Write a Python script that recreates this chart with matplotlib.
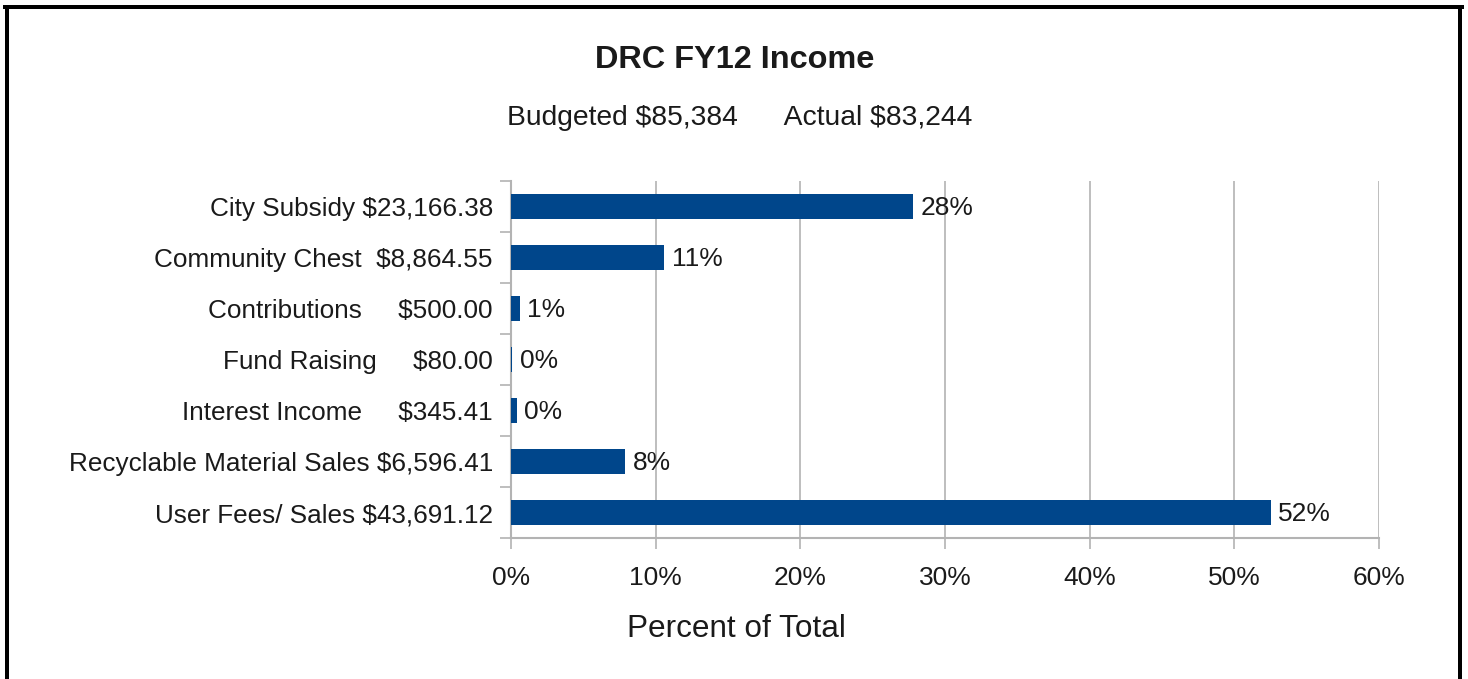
import numpy as np
import matplotlib.pyplot as plt
from matplotlib.lines import Line2D
from matplotlib.ticker import FixedLocator, PercentFormatter

plt.rcParams['font.family'] = ['Liberation Sans', 'DejaVu Sans']
plt.rcParams['text.parse_math'] = False

# kategorie (etykiety tak jak na wykresie, z odstępami)
categories = [
    'City Subsidy $23,166.38',
    'Community Chest  $8,864.55',
    'Contributions     $500.00',
    'Fund Raising     $80.00',
    'Interest Income     $345.41',
    'Recyclable Material Sales $6,596.41',
    'User Fees/ Sales $43,691.12',
]
# udział w całości (%)
shares = [27.8, 10.6, 0.6, 0.1, 0.4, 7.9, 52.5]
share_labels = ['28%', '11%', '1%', '0%', '0%', '8%', '52%']

bar_color = '#00468b'
grid_color = '#b3b3b3'
text_color = '#1a1a1a'

W, H = 1468, 679
fig = plt.figure(figsize=(W / 100, H / 100), dpi=100)
ax = fig.add_axes([511 / W, 1 - 538 / H, (1379 - 511) / W, (538 - 181) / H])

y = np.arange(len(categories))
ax.barh(y, shares, height=0.5, color=bar_color, zorder=3)

for yi, v, lab in zip(y, shares, share_labels):
    ax.text(v + 0.5, yi + 0.02, lab, va='center', ha='left', fontsize=19, color=text_color)

ax.set_xlim(0, 60)
ax.set_ylim(len(categories) - 0.5, -0.5)
ax.set_xticks(np.arange(0, 61, 10))
ax.xaxis.set_major_formatter(PercentFormatter(decimals=0))
ax.set_yticks(y)
ax.set_yticklabels(categories)
ax.yaxis.set_minor_locator(FixedLocator(np.arange(-0.5, len(categories), 1)))

ax.tick_params(axis='y', which='major', length=0, pad=13, labelsize=18.8, labelcolor=text_color)
ax.tick_params(axis='y', which='minor', length=8, width=1.2, color=grid_color)
ax.tick_params(axis='x', which='major', length=8, width=1.2, color=grid_color,
               pad=12, labelsize=19, labelcolor=text_color)

ax.grid(axis='x', color=grid_color, linewidth=1.2, zorder=0)
for s in ['top', 'right']:
    ax.spines[s].set_visible(False)
for s in ['left', 'bottom']:
    ax.spines[s].set_color(grid_color)
    ax.spines[s].set_linewidth(1.5)

# podpis osi X jest wyśrodkowany względem całego rysunku
fig.text(736 / W, 1 - 629 / H, 'Percent of Total', ha='center', va='center',
         fontsize=22.7, color=text_color)

fig.text(735 / W, 1 - 60 / H, 'DRC FY12 Income', ha='center', va='center',
         fontsize=23.4, fontweight='bold', color=text_color)
fig.text(740 / W, 1 - 118 / H, 'Budgeted $85,384      Actual $83,244', ha='center', va='center',
         fontsize=20.3, color=text_color)

# ramka wokół wykresu (bez dolnej krawędzi, jest poza obrazkiem)
lw = 4 * 72 / 100
fig.add_artist(Line2D([7 / W, 7 / W], [0, 1 - 7 / H], transform=fig.transFigure, color='black', linewidth=lw))
fig.add_artist(Line2D([1460 / W, 1460 / W], [0, 1 - 7 / H], transform=fig.transFigure, color='black', linewidth=lw))
fig.add_artist(Line2D([5 / W, 1462 / W], [1 - 7 / H, 1 - 7 / H], transform=fig.transFigure, color='black', linewidth=lw))

fig.savefig('out.png', dpi=100)
